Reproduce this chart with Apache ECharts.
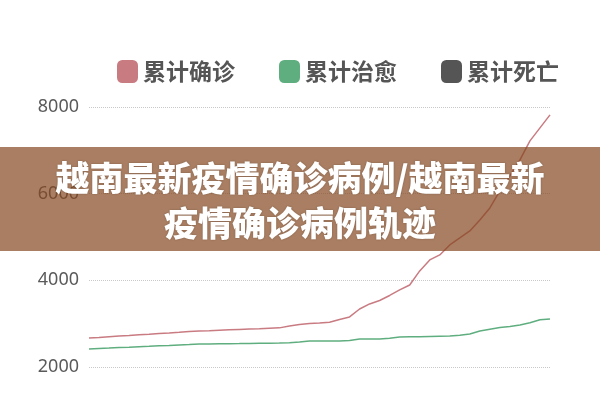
<!DOCTYPE html>
<html>
<head>
<meta charset="utf-8">
<script src="https://cdn.jsdelivr.net/npm/echarts@6/dist/echarts.min.js"></script>
<style>
html,body{margin:0;padding:0;background:#fff;}
#chart{width:600px;height:400px;}
</style>
</head>
<body>
<div id="chart"></div>
<script>
const categories = [
  '04-22','04-23','04-24','04-25','04-26','04-27','04-28','04-29','04-30',
  '05-01','05-02','05-03','05-04','05-05','05-06','05-07','05-08','05-09','05-10',
  '05-11','05-12','05-13','05-14','05-15','05-16','05-17','05-18','05-19','05-20',
  '05-21','05-22','05-23','05-24','05-25','05-26','05-27','05-28','05-29','05-30','05-31',
  '06-01','06-02','06-03','06-04','06-05','06-06','06-07'
];
const confirmed = [
  2670,2683,2700,2713,2727,2743,2757,2774,2787,2801,2817,2831,2838,2847,2857,2866,
  2875,2884,2894,2903,2947,2981,3002,3016,3034,3097,3155,3339,3455,3535,3651,3778,
  3893,4217,4471,4586,4817,4979,5140,5394,5671,6064,6410,6780,7218,7519,7819
];
const recovered = [
  2416,2427,2436,2448,2457,2469,2478,2490,2499,2510,2520,2531,2533,2536,2538,2540,
  2545,2547,2550,2552,2559,2577,2598,2600,2600,2600,2612,2647,2647,2647,2665,2693,
  2697,2700,2704,2709,2713,2730,2762,2831,2873,2910,2937,2970,3021,3092,3108
];
const deaths = [
  35,35,35,35,35,35,35,35,35,35,35,35,35,35,35,35,
  35,35,35,35,35,35,35,35,35,35,35,35,35,35,35,35,
  35,35,35,35,35,35,37,39,39,41,41,44,44,46,47
];
const yTicks = { min: 2000, max: 8000, interval: 2000 };
const legendNames = ['累计确诊','累计治愈','累计死亡'];
const colors = ['#c97b82','#5fae7f','#555555'];
const bannerLines = ['越南最新疫情确诊病例/越南最新','疫情确诊病例轨迹'];

const chart = echarts.init(document.getElementById('chart'));
chart.setOption({
  animation: false,
  backgroundColor: '#ffffff',
  color: colors,
  legend: {
    data: legendNames,
    left: 112,
    top: 55,
    itemWidth: 21,
    itemHeight: 23,
    itemGap: 44,
    icon: 'roundRect',
    textStyle: {
      fontFamily: 'Noto Sans CJK SC',
      fontSize: 23,
      fontWeight: 'bold',
      color: '#555555'
    }
  },
  grid: { left: 89, right: 50, top: 107, bottom: 33 },
  xAxis: {
    type: 'category',
    data: categories,
    boundaryGap: false,
    axisLine: { show: false },
    axisTick: { show: false },
    axisLabel: { show: false },
    splitLine: { show: false }
  },
  yAxis: {
    type: 'value',
    min: yTicks.min,
    max: yTicks.max,
    interval: yTicks.interval,
    axisLine: { show: false },
    axisTick: { show: false },
    axisLabel: {
      margin: 10,
      fontFamily: 'Noto Sans',
      fontSize: 18,
      color: '#5a5a5a',
      formatter: function (v) { return String(v); }
    },
    splitLine: { lineStyle: { type: 'dotted', color: '#c8c8c8', width: 1 } }
  },
  series: [
    { name: legendNames[0], type: 'line', data: confirmed, showSymbol: false, lineStyle: { width: 1.5 } },
    { name: legendNames[1], type: 'line', data: recovered, showSymbol: false, lineStyle: { width: 1.5 } },
    { name: legendNames[2], type: 'line', data: deaths, showSymbol: false, lineStyle: { width: 1.5 } }
  ],
  graphic: [
    {
      type: 'rect',
      left: 0,
      top: 147,
      z: 100,
      shape: { width: 600, height: 104 },
      style: { fill: 'rgba(132,71,32,0.7)' }
    },
    {
      type: 'text',
      left: 'center',
      top: 156,
      z: 101,
      style: {
        text: bannerLines.join('\n'),
        fill: '#ffffff',
        font: '900 34px "Noto Sans CJK SC"',
        textAlign: 'center',
        lineHeight: 45,
        textShadowColor: 'rgba(0,0,0,0.25)',
        textShadowBlur: 2
      }
    }
  ]
});
</script>
</body>
</html>
